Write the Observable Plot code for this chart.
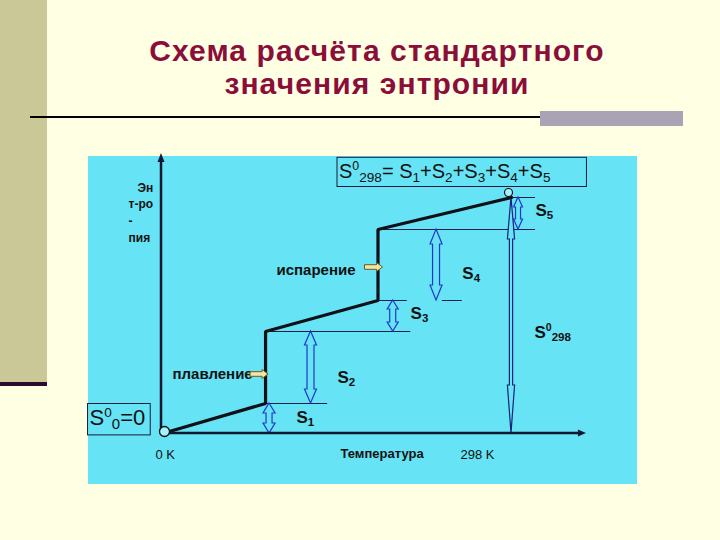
<!DOCTYPE html>
<html><head><meta charset="utf-8">
<script src="https://cdn.jsdelivr.net/npm/d3@7"></script>
<script src="https://cdn.jsdelivr.net/npm/@observablehq/plot@0.6"></script>
<style>
body{margin:0;background:#FFFFE4;}
#slide{position:relative;width:720px;height:540px;background:#FFFFE4;overflow:hidden;}
.abs{position:absolute;}
</style></head><body>
<div id="slide">
  <div class="abs" style="left:0;top:0;width:47px;height:382px;background:#C9C896"></div>
  <div class="abs" style="left:0;top:382px;width:47px;height:4px;background:#2B0B2E"></div>
  <div class="abs" style="left:0;top:34px;width:754px;text-align:center;font:bold 30px/33px 'Liberation Sans',Arial,sans-serif;letter-spacing:1.1px;color:#8B0D3A">Схема расчёта стандартного<br>значения энтронии</div>
  <div class="abs" style="left:30px;top:116px;width:653px;height:2px;background:#000"></div>
  <div class="abs" style="left:540px;top:111px;width:143px;height:15px;background:#A9A3B5"></div>
  <div class="abs" style="left:88px;top:156px;width:549px;height:328px;background:#66E3F5"></div>
  <div class="abs" id="chart" style="left:0;top:0"></div>
</div>
<script>
// ---- data (schematic) ----
const temps   = [0, 88, 88, 184, 184, 298];      // temperature, K
const entropy = [0, 30, 102, 133, 204, 236];     // entropy, schematic units
const stepLabels  = ["S_{1}", "S_{2}", "S_{3}", "S_{4}", "S_{5}"];
const phaseLabels = ["плавление", "испарение"];
const xTickValues = [0, 298];
const xTickLabels = ["0 K", "298 K"];
const yTitleLines = ["Эн", "т-ро", "-", "пия"];
const xTitle = "Температура";
const sumFormula  = "S^{0}_{298}= S_{1}+S_{2}+S_{3}+S_{4}+S_{5}";
const zeroFormula = "S^{0}_{0}=0";
const totalLabel  = "S^{0}_{298}";

// ---- tables built from the data ----
const FONT = "'Liberation Sans', Arial, sans-serif";
const curve = temps.map((T, i) => ({T, S: entropy[i]}));
const stepLayout = [
  {aT: 91.4,  hl: 10, hw: 6,   sw: 3,   lT: 114.4, lS: 11},
  {aT: 126.8, hl: 14, hw: 6,   sw: 3.5, lT: 149.4, lS: 51},
  {aT: 197,   hl: 9,  hw: 5.5, sw: 3,   lT: 211.8, lS: 115},
  {aT: 234,   hl: 15, hw: 6,   sw: 3.5, lT: 256,   lS: 155},
  {aT: 304,   hl: 10, hw: 4.5, sw: 2.5, lT: 318.5, lS: 218}
];
const steps = stepLabels.map((label, i) => ({
  label, S1: entropy[i], S2: entropy[i + 1], ...stepLayout[i],
  T: stepLayout[i].aT, hlTop: stepLayout[i].hl, hlBot: stepLayout[i].hl
}));
const totalArrow = [{T: temps[5], S1: entropy[0], S2: entropy[5], sw: 1.6, hw: 3.6, hlTop: 42, hlBot: 48}];
const guides = [
  {S: entropy[1], T1: temps[1], T2: 141},
  {S: entropy[2], T1: temps[2], T2: 212},
  {S: entropy[3], T1: temps[3], T2: 209},
  {S: entropy[3], T1: 239, T2: 256},
  {S: entropy[4], T1: temps[4], T2: 318.5},
  {S: entropy[5], T1: 295.4, T2: 318.5}
];
const phaseArrows = [
  {T: temps[1], S: 59, dx: 3},
  {T: temps[3], S: 166, dx: 5}
];
const labelsBold = [
  ...steps.map(d => ({text: d.label, T: d.lT, S: d.lS})),
  {text: totalLabel, T: 317.6, S: 96}
];
const phaseText = [
  {text: phaseLabels[0], T: 8.5, S: 55},
  {text: phaseLabels[1], T: 97.3, S: 159}
];
const yTitle = yTitleLines.map((text, i) => ({text, T: i === 0 ? -21.3 : -29, S: 242 - i * 16.7}));
const xTicks = xTickValues.map((T, i) => ({T, text: xTickLabels[i]}));
const X_AXIS_END = 362, Y_AXIS_END = 280;

// ---- custom marks ----
const vArrowMark = (items, style) => (index, {x, y}) => {
  const g = d3.create("svg:g");
  for (const a of items) {
    const cx = x(a.T), yt = y(a.S2), yb = y(a.S1);
    const {sw, hw, hlTop, hlBot} = a;
    const p = `M${cx},${yt}L${cx+hw},${yt+hlTop}L${cx+sw},${yt+hlTop}L${cx+sw},${yb-hlBot}L${cx+hw},${yb-hlBot}L${cx},${yb}L${cx-hw},${yb-hlBot}L${cx-sw},${yb-hlBot}L${cx-sw},${yt+hlTop}L${cx-hw},${yt+hlTop}Z`;
    g.append("path").attr("d", p).attr("fill", style.fill).attr("stroke", style.stroke)
      .attr("stroke-width", style.strokeWidth);
  }
  return g.node();
};
const hArrowMark = (items) => (index, {x, y}) => {
  const g = d3.create("svg:g");
  for (const a of items) {
    const tx = x(a.T) + a.dx, ty = y(a.S);
    const L = 18, hl = 6, sh = 2.3, hh = 4.5;
    const p = `M${tx},${ty}L${tx-hl},${ty-hh}L${tx-hl},${ty-sh}L${tx-L},${ty-sh}L${tx-L},${ty+sh}L${tx-hl},${ty+sh}L${tx-hl},${ty+hh}Z`;
    g.append("path").attr("d", p).attr("fill", "#F2E6A8").attr("stroke", "#6B5A1E").attr("stroke-width", 1);
  }
  return g.node();
};
const axesMark = (index, {x, y}) => {
  const g = d3.create("svg:g").attr("fill", "#0F1830").attr("stroke", "#0F1830");
  const x0 = x(0) - 1, y0 = y(0), xe = x(X_AXIS_END), ye = y(Y_AXIS_END);
  g.append("path").attr("d", `M${x0},${y0}L${xe-6},${y0}M${x0},${y0+1}L${x0},${ye+7}`)
    .attr("fill", "none").attr("stroke-width", 2.5);
  g.append("path").attr("d", `M${xe},${y0}L${xe-8},${y0-3.5}L${xe-8},${y0+3.5}Z M${x0},${ye}L${x0-3.5},${ye+9}L${x0+3.5},${ye+9}Z`)
    .attr("stroke", "none");
  return g.node();
};

const textBase = {x: "T", y: "S", text: "text", fontFamily: FONT, lineAnchor: "bottom", fill: "#111"};
const plot = Plot.plot({
  width: 720, height: 540, margin: 0,
  x: {domain: [0, 298], range: [162, 511], axis: null},
  y: {domain: [0, 236], range: [433, 197], axis: null},
  style: {background: "transparent", fontFamily: FONT},
  marks: [
    Plot.ruleY(guides, {y: "S", x1: "T1", x2: "T2", stroke: "#17204A", strokeWidth: 1}),
    vArrowMark(steps, {fill: "#66E3F5", stroke: "#2338C8", strokeWidth: 1.2}),
    vArrowMark(totalArrow, {fill: "#66E3F5", stroke: "#14207A", strokeWidth: 1.2}),
    Plot.line(curve, {x: "T", y: "S", stroke: "#101018", strokeWidth: 3.2, strokeLinejoin: "miter"}),
    axesMark,
    Plot.dot([curve[0]], {x: "T", y: "S", r: 5, dx: 2, dy: -2, fill: "#A6F2FA", stroke: "#111", strokeWidth: 1.3}),
    Plot.dot([curve[5]], {x: "T", y: "S", r: 4, dx: -3, dy: -5, fill: "#A6F2FA", stroke: "#111", strokeWidth: 1.2}),
    Plot.text(labelsBold, {...textBase, fontSize: 17, fontWeight: "bold", textAnchor: "start"}),
    Plot.text(phaseText, {...textBase, fontSize: 15, fontWeight: "bold", textAnchor: "start"}),
    Plot.text(yTitle, {...textBase, fontSize: 12, fontWeight: "bold", textAnchor: "start"}),
    Plot.text([xTicks[0]], {...textBase, y: () => -25, fontSize: 13, textAnchor: "start", dx: -7}),
    Plot.text([xTicks[1]], {...textBase, y: () => -25, fontSize: 13, textAnchor: "end", dx: -17}),
    Plot.text([{text: xTitle, T: 152, S: -24}], {...textBase, fontSize: 13, fontWeight: "bold", textAnchor: "start"}),
    Plot.text([{text: sumFormula, T: 150.7, S: 256}], {...textBase, fontSize: 20, textAnchor: "start"}),
    Plot.text([{text: zeroFormula, T: -62.3, S: 9}], {...textBase, fontSize: 22, textAnchor: "start"}),
    hArrowMark(phaseArrows)
  ]
});
document.getElementById("chart").append(plot);

// sub/superscript markup -> tspans
function richify(svg) {
  svg.querySelectorAll("text").forEach(el => {
    const t = el.textContent;
    if (!/[_^]\{/.test(t)) return;
    el.setAttribute("data-src", t);
    const fs = parseFloat(el.closest("[font-size]")?.getAttribute("font-size")) || 12;
    el.textContent = "";
    let cur = 0, m;
    const re = /([_^])\{([^}]*)\}|([^_^]+)/g;
    while ((m = re.exec(t))) {
      const ts = document.createElementNS("http://www.w3.org/2000/svg", "tspan");
      let target = 0, size = null;
      if (m[1] === "_") { target = 0.2 * fs; size = 0.68 * fs; ts.textContent = m[2]; }
      else if (m[1] === "^") { target = -0.36 * fs; size = 0.62 * fs; ts.textContent = m[2]; }
      else { ts.textContent = m[3]; }
      if (target !== cur) ts.setAttribute("dy", target - cur);
      cur = target;
      if (size) ts.setAttribute("font-size", size);
      el.appendChild(ts);
    }
  });
}
richify(plot);

function boxAround(svg, src, pad) {
  const sr = svg.getBoundingClientRect();
  svg.querySelectorAll("text").forEach(t => {
    if (t.getAttribute("data-src") !== src) return;
    const b = t.getBoundingClientRect();
    const r = document.createElementNS("http://www.w3.org/2000/svg", "rect");
    r.setAttribute("x", b.left - sr.left - pad[3]);
    r.setAttribute("y", b.top - sr.top - pad[0]);
    r.setAttribute("width", b.width + pad[1] + pad[3]);
    r.setAttribute("height", b.height + pad[0] + pad[2]);
    r.setAttribute("fill", "none");
    r.setAttribute("stroke", "#1A1A3A");
    r.setAttribute("stroke-width", 1);
    svg.appendChild(r);
  });
}
boxAround(plot, sumFormula, [2, 36, 2, 2]);
boxAround(plot, zeroFormula, [1, 5, 3, 2]);
</script>
</body></html>
